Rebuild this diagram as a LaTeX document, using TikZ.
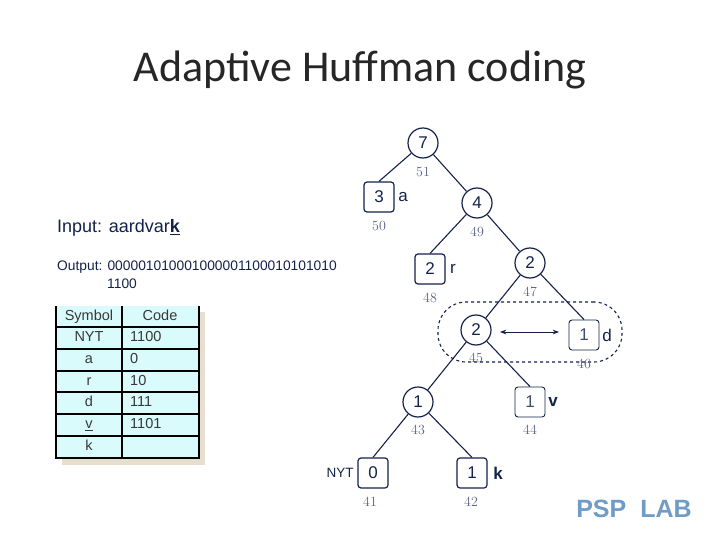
\documentclass[tikz,border=0pt]{standalone}
\usepackage{xcolor}
\usepackage{fontspec}
\setsansfont{Liberation Sans}
\renewcommand{\familydefault}{\sfdefault}
\newfontfamily\titlefont{Carlito}
\newcommand{\fsz}[1]{\fontsize{#1}{#1}\selectfont}
\usetikzlibrary{arrows.meta, positioning}
\definecolor{ink}{HTML}{14224A}
\definecolor{inksoft}{HTML}{3F4D6E}
\definecolor{muted}{HTML}{5A6486}
\definecolor{tablefill}{HTML}{D9FBFC}
\definecolor{tableshade}{HTML}{E6DFD0}
\definecolor{logo}{HTML}{6F9CC4}
\tikzset{
  inner/.style    = {circle, draw=ink, line width=1.2pt, minimum size=30pt, inner sep=0pt,
                     text=ink, font=\sffamily\fsz{17}},
  leaf/.style     = {rectangle, draw=ink, line width=1.2pt, rounded corners=3pt, minimum size=30pt,
                     inner sep=0pt, text=ink, font=\sffamily\fsz{17}},
  leafthin/.style = {leaf, line width=0.9pt, text=inksoft},
  edge/.style     = {draw=ink, line width=1.1pt},
  swap/.style     = {{Stealth[length=2.2mm]}-{Stealth[length=2.2mm]}, draw=ink, line width=0.9pt},
  rank/.style     = {text=muted, font=\rmfamily\fsz{14}, inner sep=0pt},
  sym/.style      = {text=ink, font=\sffamily\fsz{17}, inner sep=0pt},
  cell/.style     = {text=black!78, font=\sffamily\fsz{14.5}, inner sep=0pt, text height=10.5pt, text depth=3pt},
  note/.style     = {text=ink, anchor=west, inner sep=0pt, font=\sffamily\fsz{13.8}},
  tline/.style    = {draw=black, line width=1.3pt},
}
\begin{document}
\begin{tikzpicture}[x=1pt, y=-1pt, node distance=10pt, on grid]
  \useasboundingbox (0,0) rectangle (720,540);

  \node[font=\titlefont\fsz{44}, text=black!85, inner sep=0pt] (title) at (360,70) {Adaptive Huffman coding};

  \node[note, font=\sffamily\fsz{18}] (input) at (57,228) {Input: aardvar\underline{\textbf{k}}};
  \node[note] (output) at (57,267) {Output: 000001010001000001100010101010};
  \node[note] (output2) at (107,284) {1100};

  % table
  \fill[tableshade] (62,312) rectangle (205,465);
  \fill[tablefill] (56,306) rectangle (199,458);
  \foreach \y in {327,349,371,392,414,436,458}
    \draw[tline] (55.4,\y) -- (199.6,\y);
  \foreach \x in {56,122,199}
    \draw[tline] (\x,306) -- (\x,458);
  \node[cell] (hsym) at (89,317) {Symbol};
  \node[cell] (hcode) at (160,317) {Code};
  \foreach \s/\c/\y in {NYT/1100/338, a/0/360, r/10/381.5, d/111/403, \underline{v}/1101/425, k//447} {
    \node[cell] (s\y) at (89,\y) {\s};
    \node[cell, anchor=west] (c\y) at (130,\y) {\c};
  }

  % tree
  \node[inner] (n51) at (423,143) {7};
  \node[leaf, below left=54pt and 44pt of n51] (n50) {3};
  \node[inner, below right=60pt and 54pt of n51] (n49) {4};
  \node[leaf, below left=66pt and 47pt of n49] (n48) {2};
  \node[inner, below right=60pt and 53pt of n49] (n47) {2};
  \node[inner, below left=67pt and 54pt of n47] (n45) {2};
  \node[leafthin, below right=72pt and 54pt of n47] (n46) {1};
  \node[inner, below left=72pt and 58pt of n45] (n43) {1};
  \node[leafthin, below right=72pt and 54pt of n45] (n44) {1};
  \node[leaf, below left=71pt and 45pt of n43] (n41) {0};
  \node[leaf, below right=71pt and 54pt of n43] (n42) {1};

  \draw[edge] (n51) -- (n50.north);
  \draw[edge] (n51) -- (n49);
  \draw[edge] (n49) -- (n48.north);
  \draw[edge] (n49) -- (n47);
  \draw[edge] (n47) -- (n45);
  \draw[edge] (n47) -- (n46.north);
  \draw[edge] (n45) -- (n43);
  \draw[edge] (n45) -- (n44.north);
  \draw[edge] (n43) -- (n41.north);
  \draw[edge] (n43) -- (n42.north);

  \node[rank, below=29pt of n51] (r51) {51};
  \node[rank, below=29pt of n50] (r50) {50};
  \node[rank, below=29pt of n49] (r49) {49};
  \node[rank, below=29pt of n48] (r48) {48};
  \node[rank, below=29pt of n47] (r47) {47};
  \node[rank, below=28pt of n45] (r45) {45};
  \node[rank, below=29pt of n46] (r46) {46};
  \node[rank, below=28pt of n43] (r43) {43};
  \node[rank, below=28pt of n44] (r44) {44};
  \node[rank, below=29pt of n41, xshift=-3pt] (r41) {41};
  \node[rank, below=29pt of n42, xshift=-1pt] (r42) {42};

  \node[sym, right=24pt of n50] (la) {a};
  \node[sym, right=23pt of n48] (lr) {r};
  \node[sym, right=23pt of n46] (ld) {d};
  \node[sym, font=\sffamily\bfseries\fsz{17}, right=23pt of n44] (lv) {v};
  \node[sym, font=\sffamily\bfseries\fsz{17}, right=26pt of n42] (lk) {k};
  \node[sym, font=\sffamily\fsz{13.5}, left=33pt of n41] (lnyt) {NYT};

  % swapped pair
  \node[draw=ink, dashed, line width=1.1pt, rounded corners=28pt, minimum width=184pt, minimum height=60pt] (pair) at (530,332) {};
  \coordinate (swapa) at (500,332);
  \coordinate (swapb) at (559,332);
  \draw[swap] (swapa) -- (swapb);

  \node[font=\sffamily\bfseries\fsz{25}, text=logo, inner sep=0pt] (lab) at (634,509) {PSP\hspace{14pt}LAB};
\end{tikzpicture}
\end{document}
